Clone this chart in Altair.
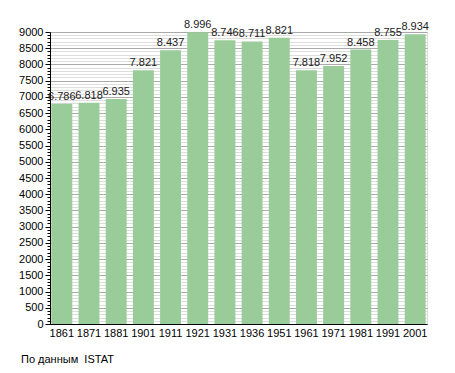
import altair as alt
import pandas as pd

years = ["1861", "1871", "1881", "1901", "1911", "1921", "1931", "1936",
         "1951", "1961", "1971", "1981", "1991", "2001"]
population = [6786, 6818, 6935, 7821, 8437, 8996, 8746, 8711,
              8821, 7818, 7952, 8458, 8755, 8934]
note = ["По данным\u00a0\u00a0ISTAT"]

df = pd.DataFrame({"year": years, "pop": population})
FONT = "Liberation Sans"

base = alt.Chart(df).encode(
    x=alt.X("year:N", sort=None, title=None,
            scale=alt.Scale(paddingInner=0.23, paddingOuter=0.05),
            axis=alt.Axis(labelAngle=0, ticks=False, domainColor="#000",
                          labelColor="#000", labelFont=FONT, labelFontSize=11,
                          labelPadding=3, grid=False)),
    y=alt.Y("pop:Q", title=None,
            scale=alt.Scale(domain=[0, 9000], nice=False),
            axis=alt.Axis(values=list(range(0, 9001, 100)),
                          labelExpr="datum.value % 500 === 0 ? datum.label : ''",
                          format="d",
                          grid=True,
                          gridColor={"condition": {"test": "datum.value % 500 === 0", "value": "#aaaaaa"}, "value": "#dddddd"},
                          gridWidth=1,
                          tickSize={"condition": {"test": "datum.value % 500 === 0", "value": 5}, "value": 3},
                          tickColor="#000", domainColor="#000",
                          labelColor="#000", labelFont=FONT, labelFontSize=11,
                          labelPadding=2)),
)

bars = base.mark_bar(color="#99cc99")
labels = base.transform_calculate(
    lab="replace(format(datum.pop, ','), ',', '.')"
).mark_text(baseline="bottom", dy=-2, font=FONT, fontSize=11, color="#222").encode(
    text="lab:N"
)

foot = alt.Chart(pd.DataFrame({"t": note})).mark_text(
    align="left", baseline="middle", font=FONT, fontSize=11, color="#000"
).encode(x=alt.value(-29), y=alt.value(328), text="t:N")

chart = alt.layer(bars, labels, foot).properties(
    width=377, height=292,
    autosize=alt.AutoSizeParams(type="none"),
    padding={"left": 42, "top": 24, "right": 20, "bottom": 41},
).configure_view(stroke=None).configure(background="#ffffff")

chart.save("out.html", embed_options={"renderer": "svg", "actions": False})
